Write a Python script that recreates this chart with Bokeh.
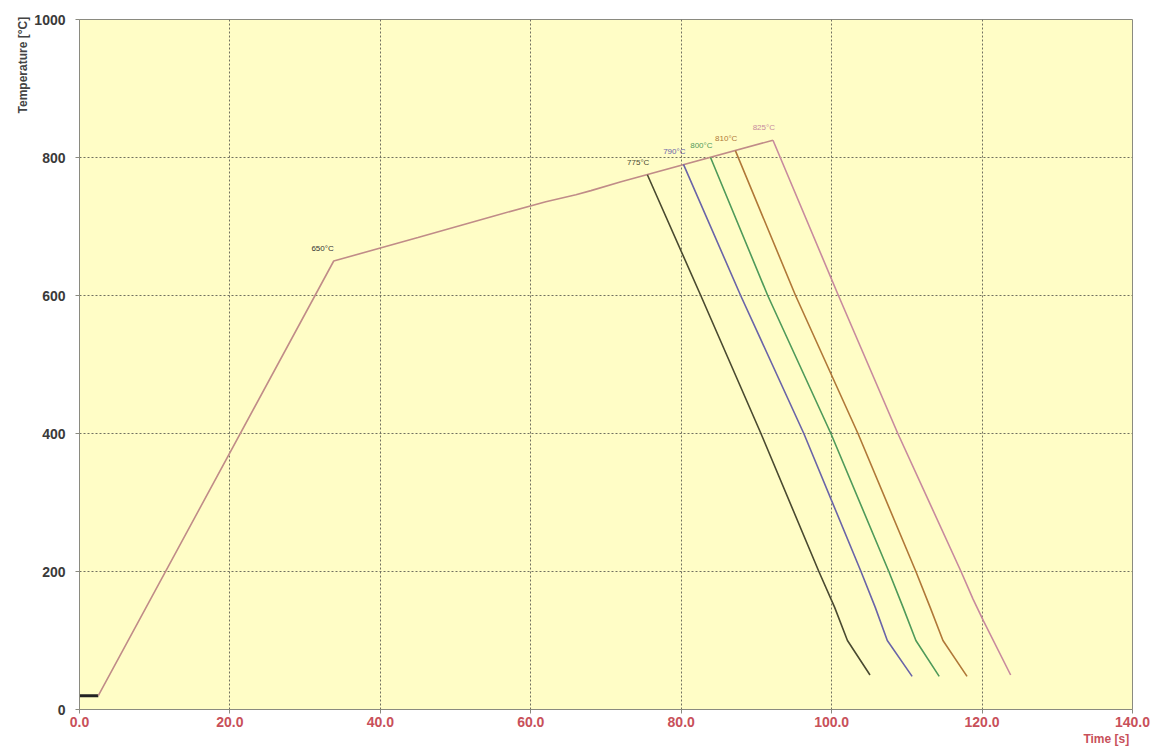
import math
from bokeh.plotting import figure
from bokeh.models import Range1d, FixedTicker, NumeralTickFormatter, Label, Title
from bokeh.embed import file_html
from bokeh.resources import INLINE

# Shared heating path: hold at room temperature, fast ramp, slow ramp
heat_t = [0.0, 2.5, 33.8, 45.0, 55.0, 62.0, 66.0, 68.0, 72.0, 92.2]
heat_T = [20, 20, 650, 684, 715, 736, 746, 752, 765, 825]

# Cooling curves, one per peak temperature
peak_labels = ["775°C", "790°C", "800°C", "810°C", "825°C"]
peak_t = [75.5, 80.3, 83.9, 87.2, 92.2]
peak_T = [775, 790, 800, 810, 825]
cool_t = [
    [75.5, 82.6, 90.6, 98.3, 100.4, 102.1, 105.1],
    [80.3, 87.9, 96.3, 103.9, 105.8, 107.4, 110.7],
    [83.9, 91.5, 99.9, 107.6, 109.5, 111.2, 114.3],
    [87.2, 95.2, 103.5, 111.2, 113.1, 114.8, 118.0],
    [92.2, 100.9, 108.8, 117.2, 118.8, 120.2, 123.8],
]
cool_T = [
    [775, 600, 400, 200, 148, 100, 50],
    [790, 600, 400, 200, 148, 100, 48],
    [800, 600, 400, 200, 148, 100, 48],
    [810, 600, 400, 200, 148, 100, 48],
    [825, 600, 400, 200, 160, 128, 50],
]
colors = ["#4a4a30", "#6a64a8", "#4f9a5a", "#b07838", "#c88a9e"]

knee_t, knee_T, knee_label = 33.8, 650, "650°C"

x_ticks = [0, 20, 40, 60, 80, 100, 120, 140]
y_ticks = [0, 200, 400, 600, 800, 1000]

p = figure(width=1154, height=753, output_backend="svg", toolbar_location=None,
           x_range=Range1d(0, 140), y_range=Range1d(0, 1000),
           min_border_left=79, min_border_right=22, min_border_top=19,
           min_border_bottom=44)
p.background_fill_color = "#fffdc6"
p.border_fill_color = "white"
p.outline_line_color = "#8a8a80"
p.outline_line_width = 1

p.xaxis.ticker = FixedTicker(ticks=x_ticks)
p.yaxis.ticker = FixedTicker(ticks=y_ticks)
p.xaxis.formatter = NumeralTickFormatter(format="0.0")
p.yaxis.formatter = NumeralTickFormatter(format="0")
for ax in (p.xaxis, p.yaxis):
    ax.axis_line_color = "#8a8a80"
    ax.major_tick_line_color = "#8a8a80"
    ax.major_tick_out = 4
    ax.major_tick_in = 0
    ax.minor_tick_line_color = None
    ax.major_label_text_font = "Liberation Sans"
    ax.major_label_text_font_style = "bold"
    ax.major_label_text_font_size = "14px"
p.xaxis.major_label_text_color = "#c8505a"
p.yaxis.major_label_text_color = "#3a3a3a"
p.yaxis.major_label_standoff = 10
p.xaxis.major_label_standoff = 3

for g in (p.xgrid, p.ygrid):
    g.grid_line_color = "#707060"
    g.grid_line_dash = "2 2"
    g.grid_line_width = 1

# heating ramp (initial hold drawn heavier)
p.line(heat_t[:2], heat_T[:2], line_color="#222222", line_width=3)
p.line(heat_t[1:], heat_T[1:], line_color="#c08c88", line_width=1.6)

for i in range(len(peak_t)):
    p.line(cool_t[i], cool_T[i], line_color=colors[i], line_width=1.6)
    p.add_layout(Label(x=peak_t[i], y=peak_T[i], text=peak_labels[i],
                       text_color=colors[i], text_font_size="8px",
                       text_font="Liberation Sans", text_align="right",
                       x_offset=2, y_offset=8))

p.add_layout(Label(x=knee_t, y=knee_T, text=knee_label, text_color="#333333",
                   text_font_size="8px", text_font="Liberation Sans",
                   text_align="right", x_offset=0, y_offset=8))

# axis titles, pinned to the top of the y axis and the right end of the x axis
p.add_layout(Title(text="Temperature  [°C]", align="right",
                   text_font="Liberation Sans", text_font_style="bold",
                   text_font_size="12px", text_color="#444444",
                   standoff=4, offset=-6), "left")
p.add_layout(Title(text="Time  [s]", align="right",
                   text_font="Liberation Sans", text_font_style="bold",
                   text_font_size="12px", text_color="#c8505a",
                   standoff=0, offset=0), "below")

open("out.html", "w").write(file_html(p, INLINE))
